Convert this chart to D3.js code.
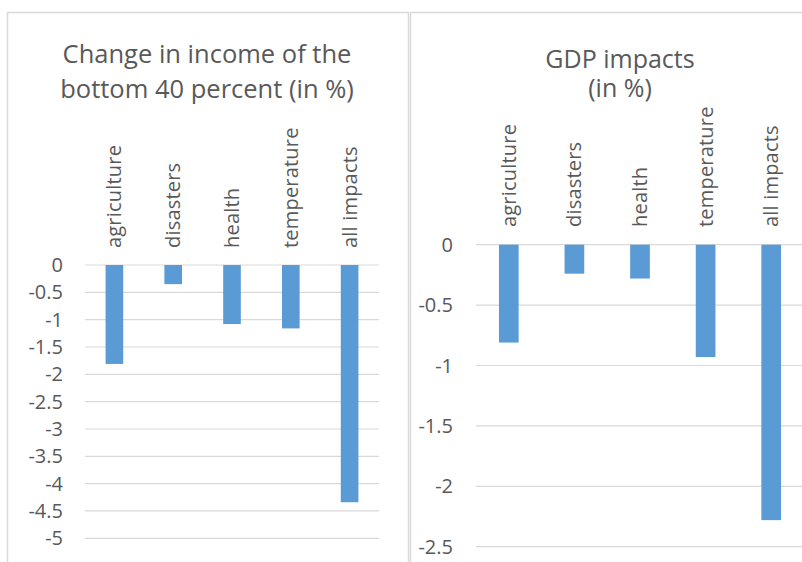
<!DOCTYPE html>
<html>
<head>
<meta charset="utf-8">
<script src="https://cdn.jsdelivr.net/npm/d3@7"></script>
<style>
  body { margin: 0; background: #fff; }
  text { font-family: "Open Sans", sans-serif; fill: #595959; }
</style>
</head>
<body>
<div id="container"></div>
<script>
/* DATA */
const categories = ["agriculture", "disasters", "health", "temperature", "all impacts"];
const incomeValues = [-1.81, -0.35, -1.08, -1.16, -4.34];   // bottom 40 percent
const gdpValues = [-0.81, -0.24, -0.28, -0.93, -2.28];      // GDP impacts
const incomeTicks = [0, -0.5, -1, -1.5, -2, -2.5, -3, -3.5, -4, -4.5, -5];
const gdpTicks = [0, -0.5, -1, -1.5, -2, -2.5];
const incomeTitle = ["Change in income of the", "bottom 40 percent (in %)"];
const gdpTitle = ["GDP impacts", "(in %)"];

/* LAYOUT */
const width = 802, height = 562;
const barColor = "#5b9bd5", gridColor = "#d9d9d9";

const panels = [
  { values: incomeValues, ticks: incomeTicks, title: incomeTitle,
    box: {x: 7, y: 12, w: 401}, xr: [85, 379], yr: [265, 538.3],
    titleX: 207, titleY: [63, 97.5], titleSize: 25.5, labelEnd: 248, tickX: 63 },
  { values: gdpValues, ticks: gdpTicks, title: gdpTitle,
    box: {x: 410, y: 12, w: 420}, xr: [476, 804], yr: [244.7, 546.7],
    titleX: 620, titleY: [68, 97], titleSize: 25, labelEnd: 227, tickX: 453 }
];

const svg = d3.select("#container").append("svg")
  .attr("width", width)
  .attr("height", height);

panels.forEach(p => {
  const g = svg.append("g");

  // panel frame
  g.append("rect")
    .attr("x", p.box.x + 0.5).attr("y", p.box.y + 0.5)
    .attr("width", p.box.w).attr("height", height)
    .attr("fill", "#fff")
    .attr("stroke", gridColor)
    .attr("stroke-width", 1.5);

  const x = d3.scaleBand()
    .domain(categories)
    .range(p.xr)
    .paddingInner(0.7)
    .paddingOuter(0.35);

  const y = d3.scaleLinear()
    .domain([0, d3.min(p.ticks)])
    .range(p.yr);

  // gridlines
  g.selectAll("line.grid")
    .data(p.ticks)
    .join("line")
    .attr("class", "grid")
    .attr("x1", p.xr[0]).attr("x2", p.xr[1])
    .attr("y1", d => y(d)).attr("y2", d => y(d))
    .attr("stroke", gridColor)
    .attr("stroke-width", 1.2);

  // tick labels
  g.selectAll("text.tick")
    .data(p.ticks)
    .join("text")
    .attr("class", "tick")
    .attr("x", p.tickX)
    .attr("y", d => y(d))
    .attr("dy", "0.35em")
    .attr("text-anchor", "end")
    .attr("font-size", 20)
    .text(d => d);

  // bars
  g.selectAll("rect.bar")
    .data(p.values)
    .join("rect")
    .attr("class", "bar")
    .attr("x", (d, i) => x(categories[i]))
    .attr("width", x.bandwidth())
    .attr("y", y(0))
    .attr("height", d => y(d) - y(0))
    .attr("fill", barColor);

  // rotated category labels
  g.selectAll("text.cat")
    .data(categories)
    .join("text")
    .attr("class", "cat")
    .attr("transform", d => `translate(${x(d) + x.bandwidth() / 2},${p.labelEnd}) rotate(-90)`)
    .attr("dy", "0.35em")
    .attr("text-anchor", "start")
    .attr("font-size", 20)
    .attr("letter-spacing", 0.2)
    .text(d => d);

  // title
  g.selectAll("text.title")
    .data(p.title)
    .join("text")
    .attr("class", "title")
    .attr("x", p.titleX)
    .attr("y", (d, i) => p.titleY[i])
    .attr("text-anchor", "middle")
    .attr("font-size", p.titleSize)
    .text(d => d);
});
</script>
</body>
</html>
